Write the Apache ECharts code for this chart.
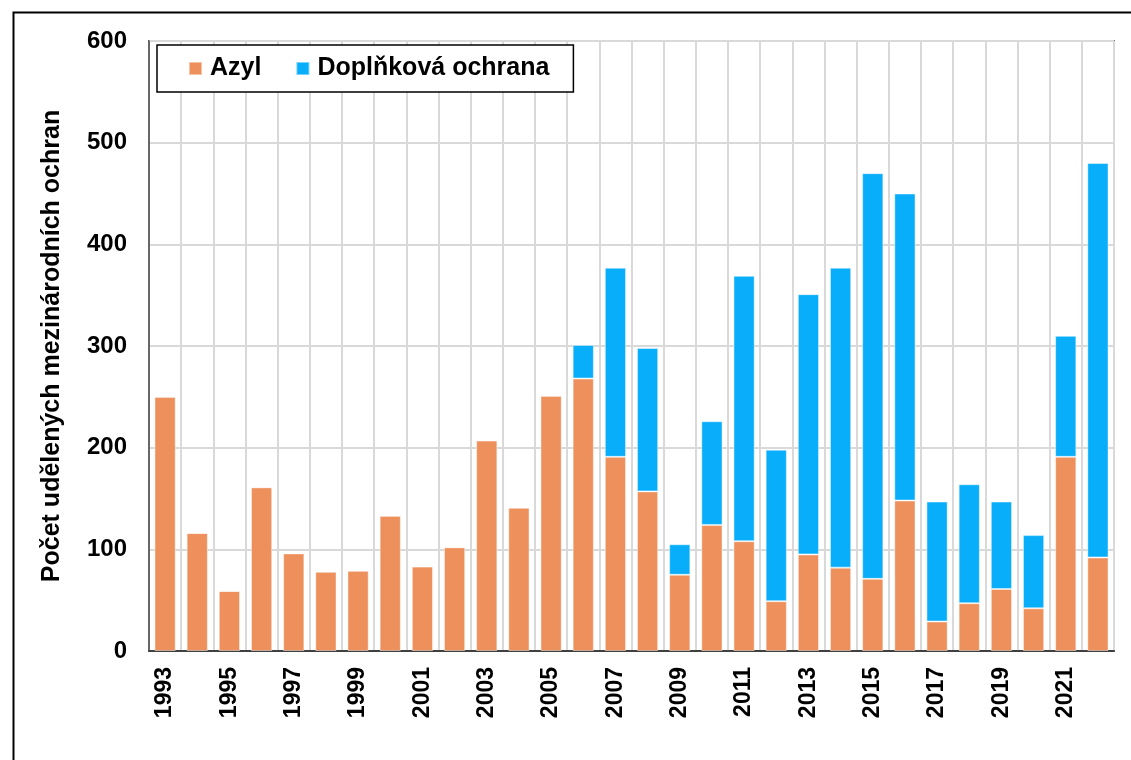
<!DOCTYPE html>
<html>
<head>
<meta charset="utf-8">
<script src="https://cdn.jsdelivr.net/npm/echarts@6/dist/echarts.min.js"></script>
<style>
html,body{margin:0;padding:0;background:#fff;}
#chart{width:1131px;height:760px;}
</style>
</head>
<body>
<div id="chart"></div>
<script>
const years = ['1993','1994','1995','1996','1997','1998','1999','2000','2001','2002','2003','2004','2005','2006','2007','2008','2009','2010','2011','2012','2013','2014','2015','2016','2017','2018','2019','2020','2021','2022'];
const azyl = [250,116,59,161,96,78,79,133,83,102,207,141,251,268,191,157,75,124,108,49,95,82,71,148,29,47,61,42,191,92];
const doplnkova = [0,0,0,0,0,0,0,0,0,0,0,0,0,33,186,141,30,102,261,149,256,295,399,302,118,117,86,72,119,388];
const seriesNames = ['Azyl','Doplňková ochrana'];
const yTitle = 'Počet udělených mezinárodních ochran';

const font = '"Liberation Sans", Arial, sans-serif';
const chart = echarts.init(document.getElementById('chart'));
chart.setOption({
  animation: false,
  backgroundColor: '#fff',
  graphic: [{
    type: 'rect', left: 11, top: 10, silent: true,
    shape: {x: 0, y: 0, width: 1140, height: 770},
    style: {fill: 'none', stroke: '#000', lineWidth: 2}
  }],
  grid: {left: 149, right: 17, top: 41, bottom: 109, show: true, borderColor: '#000', borderWidth: 1.5, backgroundColor: 'transparent'},
  legend: {
    left: 157, top: 45,
    padding: [11, 24, 11, 31],
    itemGap: 34, itemWidth: 13, itemHeight: 13,
    borderColor: '#000', borderWidth: 1.5, backgroundColor: '#fff',
    textStyle: {fontFamily: font, fontWeight: 'bold', fontSize: 25, color: '#000', padding: [0, 0, 0, 3]},
    data: seriesNames.map(n => ({name: n, icon: 'rect'}))
  },
  xAxis: {
    type: 'category', data: years,
    axisLine: {lineStyle: {color: '#404040', width: 2}},
    axisTick: {show: false},
    axisLabel: {interval: 1, rotate: 90, margin: 16, fontFamily: font, fontWeight: 'bold', fontSize: 23, color: '#000'},
    splitLine: {show: true, interval: 0, lineStyle: {color: '#d9d9d9', width: 2}}
  },
  yAxis: {
    type: 'value', min: 0, max: 600, interval: 100,
    name: yTitle, nameLocation: 'middle', nameGap: 84,
    nameTextStyle: {fontFamily: font, fontWeight: 'bold', fontSize: 25, color: '#000'},
    axisLine: {show: true, lineStyle: {color: '#404040', width: 1.5}},
    axisTick: {show: false},
    axisLabel: {margin: 22, fontFamily: font, fontWeight: 'bold', fontSize: 24, color: '#000'},
    splitLine: {lineStyle: {color: '#d9d9d9', width: 2}}
  },
  series: [
    {name: seriesNames[0], type: 'bar', stack: 't', data: azyl, barCategoryGap: '34%',
     itemStyle: {color: '#EE905B', borderColor: 'rgba(255,255,255,0.45)', borderWidth: 1}},
    {name: seriesNames[1], type: 'bar', stack: 't', data: doplnkova, barCategoryGap: '34%',
     itemStyle: {color: '#09AEFB', borderColor: 'rgba(255,255,255,0.45)', borderWidth: 1}}
  ]
});
</script>
</body>
</html>
